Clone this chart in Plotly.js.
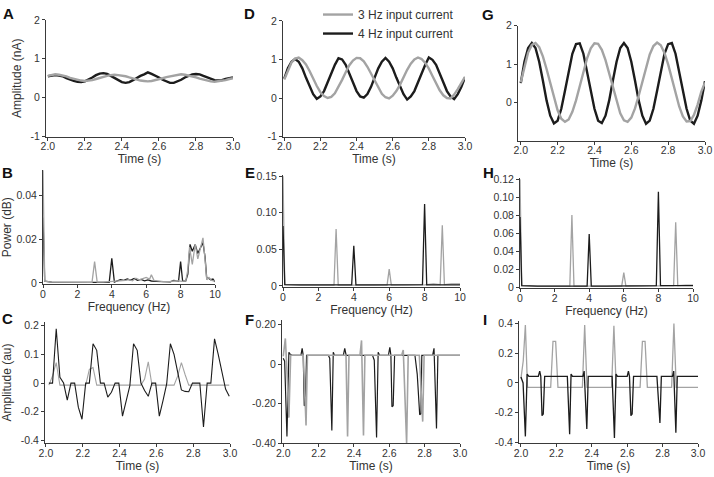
<!DOCTYPE html>
<html>
<head>
<meta charset="utf-8">
<script src="https://cdn.plot.ly/plotly-3.0.1.min.js"></script>
<style>html,body{margin:0;padding:0;background:#fff;}#chart{width:714px;height:477px;}</style>
</head>
<body>
<div id="chart"></div>
<script>
// ---------- DATA ----------
// Row 1: membrane response (nA) vs time (s)
const timeGrid = [2.00,2.02,2.04,2.06,2.08,2.10,2.12,2.14,2.16,2.18,2.20,2.22,2.24,2.26,2.28,2.30,2.32,2.34,2.36,2.38,2.40,2.42,2.44,2.46,2.48,2.50,2.52,2.54,2.56,2.58,2.60,2.62,2.64,2.66,2.68,2.70,2.72,2.74,2.76,2.78,2.80,2.82,2.84,2.86,2.88,2.90,2.92,2.94,2.96,2.98,3.00];
const ampA_3Hz = [0.56,0.58,0.60,0.59,0.57,0.55,0.51,0.48,0.46,0.44,0.43,0.44,0.45,0.48,0.51,0.53,0.56,0.58,0.59,0.58,0.57,0.55,0.52,0.49,0.46,0.44,0.43,0.42,0.43,0.45,0.47,0.50,0.53,0.55,0.57,0.59,0.60,0.59,0.57,0.55,0.52,0.49,0.46,0.44,0.42,0.41,0.42,0.43,0.45,0.48,0.50];
const ampA_4Hz = [0.55,0.57,0.58,0.57,0.55,0.50,0.46,0.43,0.41,0.40,0.42,0.46,0.52,0.58,0.62,0.63,0.61,0.56,0.50,0.44,0.40,0.38,0.40,0.45,0.51,0.56,0.60,0.65,0.61,0.57,0.52,0.46,0.41,0.38,0.38,0.41,0.46,0.52,0.57,0.60,0.61,0.60,0.56,0.52,0.48,0.45,0.44,0.45,0.48,0.50,0.52];
const ampD_3Hz = [0.48,0.72,0.92,1.02,1.05,0.98,0.87,0.70,0.50,0.31,0.15,0.05,0.00,0.03,0.12,0.28,0.47,0.67,0.85,0.97,1.04,1.03,0.95,0.81,0.63,0.44,0.26,0.11,0.02,-0.01,0.06,0.18,0.34,0.54,0.73,0.89,1.00,1.05,1.01,0.91,0.76,0.57,0.37,0.20,0.07,0.00,-0.01,0.09,0.23,0.40,0.55];
const ampD_4Hz = [0.50,0.77,0.94,1.01,0.94,0.77,0.53,0.29,0.10,-0.02,0.04,0.18,0.41,0.65,0.86,1.03,1.00,0.86,0.65,0.41,0.18,0.04,0.01,0.10,0.29,0.53,0.77,0.94,1.04,0.94,0.77,0.53,0.29,0.10,-0.04,0.04,0.18,0.41,0.65,0.86,1.05,0.99,0.86,0.65,0.41,0.18,0.04,-0.03,0.10,0.29,0.53];
const ampG_3Hz = [0.52,0.95,1.30,1.50,1.55,1.44,1.20,0.87,0.49,0.11,-0.21,-0.43,-0.51,-0.45,-0.25,0.05,0.42,0.81,1.15,1.41,1.54,1.53,1.37,1.10,0.74,0.36,0.00,-0.29,-0.47,-0.51,-0.40,-0.16,0.17,0.55,0.93,1.25,1.47,1.56,1.49,1.29,0.99,0.62,0.23,-0.11,-0.37,-0.50,-0.49,-0.33,-0.06,0.28,0.52];
const ampG_4Hz = [0.50,1.06,1.42,1.55,1.42,1.06,0.57,0.05,-0.35,-0.55,-0.48,-0.17,0.30,0.82,1.27,1.52,1.54,1.27,0.82,0.30,-0.17,-0.48,-0.54,-0.35,0.05,0.57,1.06,1.42,1.55,1.42,1.06,0.57,0.05,-0.35,-0.56,-0.48,-0.17,0.30,0.82,1.27,1.52,1.55,1.27,0.82,0.30,-0.17,-0.48,-0.56,-0.35,0.05,0.55];

// Row 2: power spectra (frequency in Hz)
const freqB_3Hz = [0,0.1,0.5,1.5,2.5,2.85,3.0,3.15,3.5,4.5,4.8,5.0,5.2,5.4,5.6,5.8,6.0,6.2,6.3,6.45,6.7,7.0,7.4,7.8,8.1,8.3,8.42,8.52,8.68,8.85,9.0,9.15,9.3,9.42,9.52,9.65,9.8,10.0];
const powB_3Hz  = [0.052,0.0008,0.0004,0.0003,0.0003,0.0003,0.0098,0.0004,0.0004,0.0008,0.0012,0.0015,0.001,0.0022,0.0014,0.002,0.0025,0.0018,0.0038,0.0012,0.0008,0.0006,0.0007,0.001,0.0007,0.0009,0.006,0.0165,0.0085,0.0178,0.011,0.0155,0.0207,0.011,0.0015,0.0025,0.0012,0.0008];
const freqB_4Hz = [0,0.1,0.5,1.5,2.5,3.5,3.85,4.0,4.15,4.5,4.7,4.9,5.1,5.3,5.5,5.7,5.9,6.1,6.3,6.6,7.0,7.4,7.6,7.75,7.88,8.0,8.12,8.3,8.42,8.55,8.68,8.85,9.0,9.15,9.3,9.42,9.52,9.62,9.75,9.88,10.0];
const powB_4Hz  = [0.03,0.0008,0.0004,0.0003,0.0003,0.0003,0.0003,0.0113,0.0004,0.0015,0.0012,0.0018,0.0013,0.002,0.0012,0.0016,0.001,0.0014,0.0009,0.0007,0.0006,0.0005,0.0012,0.0009,0.0008,0.0098,0.0008,0.0009,0.004,0.0177,0.0145,0.0176,0.0135,0.016,0.0185,0.012,0.002,0.0022,0.0015,0.0018,0.0005];
const freqE_3Hz = [0,0.1,1,2,2.88,3.0,3.12,4,5,5.88,6.0,6.12,7,8,8.5,8.88,9.0,9.12,9.5,10];
const powE_3Hz  = [0.15,0.002,0.0012,0.0012,0.0012,0.078,0.0012,0.0012,0.0012,0.0012,0.023,0.0012,0.0012,0.0015,0.003,0.002,0.083,0.002,0.003,0.003];
const freqE_4Hz = [0,0.1,1,2,3,3.88,4.0,4.12,5,6,7,7.5,7.88,8.0,8.12,9,10];
const powE_4Hz  = [0.082,0.002,0.0015,0.0015,0.0015,0.0015,0.055,0.0015,0.0015,0.0015,0.0015,0.002,0.002,0.112,0.0015,0.0015,0.0015];
const freqH_3Hz = [0,0.1,1,2,2.88,3.0,3.12,4,5,5.88,6.0,6.12,7,8,8.88,9.0,9.12,9.6,10];
const powH_3Hz  = [0.12,0.0015,0.001,0.001,0.001,0.08,0.001,0.001,0.001,0.001,0.016,0.001,0.001,0.0015,0.0015,0.072,0.0015,0.002,0.002];
const freqH_4Hz = [0,0.1,1,2,3,3.88,4.0,4.12,5,6,7,7.88,8.0,8.12,9,10];
const powH_4Hz  = [0.078,0.0015,0.001,0.001,0.001,0.001,0.059,0.001,0.001,0.001,0.001,0.0015,0.106,0.0015,0.0015,0.0015];

// Row 3: output amplitude (au) vs time (s)
const timeC = [2.016,2.036,2.056,2.076,2.096,2.116,2.136,2.156,2.176,2.196,2.216,2.236,2.256,2.276,2.296,2.316,2.336,2.356,2.376,2.396,2.416,2.436,2.456,2.476,2.496,2.516,2.536,2.556,2.576,2.596,2.616,2.636,2.656,2.676,2.696,2.716,2.736,2.756,2.776,2.796,2.816,2.836,2.856,2.876,2.896,2.916,2.936,2.956,2.976,2.996];
const ampC_3Hz = [-0.007,0.025,0.071,-0.007,-0.007,-0.007,-0.007,-0.007,-0.007,-0.007,-0.007,0.048,0.054,-0.007,-0.007,-0.007,-0.007,-0.007,-0.007,-0.007,-0.007,-0.007,-0.007,-0.007,-0.007,-0.007,0.014,0.074,-0.007,-0.007,-0.007,-0.007,-0.007,-0.007,-0.007,0.025,0.071,0.030,-0.007,-0.007,-0.007,-0.007,-0.007,-0.007,-0.007,-0.007,-0.007,-0.007,-0.007,-0.007];
const ampC_4Hz = [0,0,0.189,0.020,0,-0.059,0,0,-0.084,-0.126,0,0,0.137,0.114,0,0,-0.049,-0.032,0,0,-0.115,-0.067,-0.009,0.137,0.114,0,-0.026,-0.046,0,0,-0.115,-0.061,-0.003,0.137,0.100,0.037,-0.024,-0.029,-0.030,0,0,0,-0.153,0,0,0.154,0.100,0.043,-0.021,-0.046];
const ampC_ticks = [0.2,0.1,0,-0.1,-0.2];
const ampC_labels = ['0.2','0.1','0','-0.2','-0.4'];
const timeF_3Hz = [2.000,2.012,2.022,2.032,2.042,2.113,2.121,2.129,2.137,2.355,2.364,2.372,2.434,2.443,2.454,2.462,2.670,2.679,2.698,2.707,2.770,2.780,2.789,2.797,3.000];
const ampF_3Hz  = [0.040,0.130,-0.050,-0.270,0.045,0.045,-0.120,-0.310,0.045,0.045,-0.365,0.045,0.045,0.120,-0.360,0.045,0.045,0.072,-0.400,0.045,0.045,-0.150,-0.290,0.045,0.045];
const timeF_4Hz = [2.000,2.008,2.021,2.032,2.040,2.050,2.100,2.107,2.113,2.119,2.125,2.132,2.255,2.263,2.275,2.283,2.290,2.340,2.348,2.356,2.505,2.515,2.528,2.537,2.545,2.595,2.603,2.609,2.615,2.622,2.630,2.745,2.758,2.772,2.779,2.784,2.845,2.853,2.867,2.875,3.000];
const ampF_4Hz  = [0.030,0.015,-0.365,0.060,0.050,0.045,0.045,0.080,0.045,-0.210,-0.205,0.045,0.045,0.030,-0.335,0.060,0.045,0.045,0.080,0.045,0.045,0.020,-0.370,0.060,0.045,0.045,0.085,0.045,-0.215,-0.210,0.045,0.045,-0.050,-0.255,-0.250,0.045,0.045,0.080,-0.325,0.045,0.045];
const timeI_3Hz = [2.000,2.013,2.025,2.037,2.168,2.181,2.196,2.209,2.347,2.360,2.373,2.512,2.525,2.538,2.673,2.686,2.701,2.714,2.851,2.864,2.877,3.000];
const ampI_3Hz  = [0.030,0.150,0.390,-0.029,-0.029,0.280,0.280,-0.029,-0.029,0.390,-0.029,-0.029,0.385,-0.029,-0.029,0.280,0.280,-0.029,-0.029,0.400,-0.029,-0.029];
const timeI_4Hz = [2.000,2.012,2.025,2.035,2.045,2.098,2.106,2.112,2.119,2.126,2.134,2.262,2.275,2.283,2.291,2.350,2.357,2.372,2.380,2.515,2.528,2.537,2.545,2.600,2.607,2.613,2.621,2.628,2.636,2.768,2.785,2.793,2.856,2.863,2.875,2.883,3.000];
const ampI_4Hz  = [0.040,0.000,-0.360,0.060,0.044,0.044,0.080,0.044,-0.220,-0.210,0.044,0.044,-0.345,0.060,0.044,0.044,0.080,-0.310,0.044,0.044,-0.370,0.060,0.044,0.044,0.080,0.044,-0.220,-0.210,0.044,0.044,-0.270,0.044,0.044,0.080,-0.335,0.044,0.044];

const seriesNames = ['3 Hz input current','4 Hz input current'];
const timeTicks = [2.0,2.2,2.4,2.6,2.8,3.0];
const timeTickText = ['2.0','2.2','2.4','2.6','2.8','3.0'];
const freqTicks = [0,2,4,6,8,10];

// ---------- STYLE / LAYOUT ----------
const W = 714, H = 477;
const GRAY = '#a3a3a3', BLACK = '#1c1c1c';
const FONT = 'Liberation Sans, Arial, Helvetica, sans-serif';
const px = (a,b) => [a/W, b/W];
const py = (top,bottom) => [1-bottom/H, 1-top/H];

const traces = [];
function add(ax, x, y, color, width, name, legend){
  traces.push({type:'scatter', mode:'lines', x:x, y:y, xaxis:'x'+ax, yaxis:'y'+ax,
    line:{color:color, width:width}, name:name, showlegend:!!legend,
    legendrank: name===seriesNames[0]?1:2, hoverinfo:'skip'});
}
// A, D, G
add('', timeGrid, ampA_4Hz, BLACK, 2.4, seriesNames[1]);
add('', timeGrid, ampA_3Hz, GRAY, 2.4, seriesNames[0]);
add('2', timeGrid, ampD_4Hz, BLACK, 2.4, seriesNames[1], true);
add('2', timeGrid, ampD_3Hz, GRAY, 2.4, seriesNames[0], true);
add('3', timeGrid, ampG_4Hz, BLACK, 2.4, seriesNames[1]);
add('3', timeGrid, ampG_3Hz, GRAY, 2.4, seriesNames[0]);
// B, E, H
add('4', freqB_4Hz, powB_4Hz, BLACK, 1.3, seriesNames[1]);
add('4', freqB_3Hz, powB_3Hz, GRAY, 1.3, seriesNames[0]);
add('5', freqE_3Hz, powE_3Hz, GRAY, 1.3, seriesNames[0]);
add('5', freqE_4Hz, powE_4Hz, BLACK, 1.3, seriesNames[1]);
add('6', freqH_3Hz, powH_3Hz, GRAY, 1.3, seriesNames[0]);
add('6', freqH_4Hz, powH_4Hz, BLACK, 1.3, seriesNames[1]);
// C, F, I
add('7', timeC, ampC_3Hz, GRAY, 1.1, seriesNames[0]);
add('7', timeC, ampC_4Hz, BLACK, 1.1, seriesNames[1]);
add('8', timeF_4Hz, ampF_4Hz, BLACK, 1.2, seriesNames[1]);
add('8', timeF_3Hz, ampF_3Hz, GRAY, 1.6, seriesNames[0]);
add('9', timeI_3Hz, ampI_3Hz, GRAY, 1.3, seriesNames[0]);
add('9', timeI_4Hz, ampI_4Hz, BLACK, 1.3, seriesNames[1]);

const baseAxis = {showline:true, linecolor:'#3a3a3a', linewidth:1, ticks:'outside', ticklen:3,
  tickwidth:1, tickcolor:'#3a3a3a', showgrid:false, zeroline:false, fixedrange:true,
  tickfont:{family:FONT, size:10.5, color:'#333'}};
const titleFont = {family:FONT, size:12, color:'#333'};

function xAx(dom, range, anchor, isTime, title){
  const o = Object.assign({}, baseAxis, {domain:dom, range:range, anchor:anchor,
    ticklabelstandoff:-3, title:{text:title, font:titleFont, standoff:3}});
  if(isTime){ o.tickvals = timeTicks; o.ticktext = timeTickText; }
  else { o.tickvals = freqTicks; }
  return o;
}
function yAx(dom, range, anchor, vals, text, title){
  return Object.assign({}, baseAxis, {domain:dom, range:range, anchor:anchor,
    tickvals:vals, ticktext:text, title:{text:title||'', font:titleFont, standoff:6}});
}

const layout = {
  width:W, height:H, margin:{l:0,r:0,t:0,b:0}, paper_bgcolor:'#fff', plot_bgcolor:'rgba(0,0,0,0)',
  font:{family:FONT, color:'#333'},
  showlegend:true,
  legend:{x:318/W, y:1+5/H, xanchor:'left', yanchor:'top', bgcolor:'rgba(0,0,0,0)',
    font:{family:FONT, size:12, color:'#333'}, tracegroupgap:0, itemwidth:30},
  // Row 1
  xaxis:  xAx(px(46,233), [1.99,3.0], 'y', true, 'Time (s)'),
  yaxis:  yAx(py(15,133), [-1,2], 'x', [-1,0,1,2], ['-1','0','1','2'], 'Amplitude (nA)'),
  xaxis2: xAx(px(283,465), [1.993,3.0], 'y2', true, 'Time (s)'),
  yaxis2: yAx(py(16,133), [-1,2], 'x2', [-1,0,1,2], ['-1','0','1','2']),
  xaxis3: xAx(px(518,705), [1.985,3.0], 'y3', true, 'Time (s)'),
  yaxis3: yAx(py(21,137), [-1,2], 'x3', [0,1,2], ['0','1','2']),
  // Row 2
  xaxis4: xAx(px(43,215), [0,10], 'y4', false, 'Frequency (Hz)'),
  yaxis4: yAx(py(167,282), [-0.0005,0.0517], 'x4', [0,0.02,0.04], ['0','0.02','0.04'], 'Power (dB)'),
  xaxis5: xAx(px(283,460), [0,10], 'y5', false, 'Frequency (Hz)'),
  yaxis5: yAx(py(172,285), [-0.0014,0.1514], 'x5', [0,0.05,0.10,0.15], ['0','0.05','0.10','0.15']),
  xaxis6: xAx(px(520,693), [0,10], 'y6', false, 'Frequency (Hz)'),
  yaxis6: yAx(py(175,286), [-0.0011,0.1211], 'x6', [0,0.02,0.04,0.06,0.08,0.10,0.12], ['0','0.02','0.04','0.06','0.08','0.10','0.12']),
  // Row 3
  xaxis7: xAx(px(45,230), [1.995,3.0], 'y7', true, 'Time (s)'),
  yaxis7: yAx(py(320,443), [-0.21,0.214], 'x7', ampC_ticks, ampC_labels, 'Amplitude (au)'),
  xaxis8: xAx(px(282,460), [1.993,3.0], 'y8', true, 'Time (s)'),
  yaxis8: yAx(py(318,443), [-0.4,0.225], 'x8', [0.2,0,-0.2,-0.4], ['0.20','0','-0.20','-0.40']),
  xaxis9: xAx(px(519,698), [1.989,3.0], 'y9', true, 'Time (s)'),
  yaxis9: yAx(py(319,443), [-0.407,0.42], 'x9', [0.4,0.2,0,-0.2,-0.4], ['0.4','0.2','0','-0.2','-0.4']),
  annotations: [
    ['A',8,9],['D',250,9],['G',488,10],
    ['B',7,169],['E',250,169],['H',488,169],
    ['C',7,317],['F',249,318],['I',485,318]
  ].map(([t,x,y]) => ({text:'<b>'+t+'</b>', x:x/W, y:1-y/H, xref:'paper', yref:'paper',
     xanchor:'center', yanchor:'middle', showarrow:false, font:{family:FONT, size:15, color:'#111'}}))
};

Plotly.newPlot('chart', traces, layout, {staticPlot:true, displayModeBar:false});
</script>
</body>
</html>
